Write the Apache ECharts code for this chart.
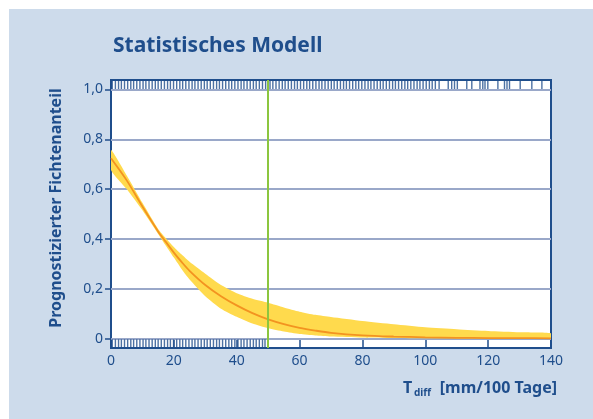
<!DOCTYPE html>
<html>
<head>
<meta charset="utf-8">
<script src="https://cdn.jsdelivr.net/npm/echarts@6/dist/echarts.min.js"></script>
<style>
html,body{margin:0;padding:0;background:#ffffff;}
#bg{position:absolute;left:9px;top:9px;width:584px;height:410px;background:#cddbeb;}
#chart{position:absolute;left:0;top:0;width:593px;height:419px;}
</style>
</head>
<body>
<div id="bg"></div>
<div id="chart"></div>
<script>
// ---- data ----
const xValues = [0, 5, 10, 15, 17.5, 20, 22.5, 25, 30, 35, 40, 45, 50, 55, 60, 65, 70, 80, 90, 100, 110, 120, 130, 140];
const meanValues = [0.724, 0.635, 0.53, 0.43, 0.387, 0.345, 0.307, 0.272, 0.215, 0.17, 0.133, 0.102, 0.077, 0.058, 0.043, 0.032, 0.023, 0.013, 0.008, 0.005, 0.003, 0.002, 0.0015, 0.001];
const upperValues = [0.757, 0.655, 0.545, 0.44, 0.402, 0.368, 0.337, 0.308, 0.26, 0.215, 0.182, 0.16, 0.144, 0.125, 0.108, 0.095, 0.086, 0.07, 0.057, 0.045, 0.037, 0.03, 0.025, 0.021];
const lowerValues = [0.677, 0.6, 0.515, 0.42, 0.372, 0.325, 0.278, 0.237, 0.17, 0.12, 0.087, 0.06, 0.041, 0.028, 0.018, 0.012, 0.008, 0.004, 0.002, 0.001, 0.0005, 0.0003, 0.0002, 0.0001];
const rugTop = [0.4,1.4,2.4,3.3,4.3,5.3,6.3,7.2,8.2,9.2,10.2,11.1,12.1,13.1,14.1,15.0,16.0,17.0,18.0,18.9,19.9,20.9,21.9,22.8,23.8,24.8,25.8,26.7,27.7,28.7,29.7,30.6,31.6,32.6,33.6,34.5,35.5,36.5,37.5,38.4,39.4,40.4,41.4,42.3,43.3,44.3,45.3,46.2,47.2,48.2,49.2,50.6,51.5,52.5,53.5,54.5,55.4,56.4,57.4,58.4,59.3,60.3,61.3,62.3,63.2,64.2,65.2,66.2,67.1,68.1,69.1,70.1,71.0,72.0,73.0,74.0,74.9,75.9,76.9,77.9,78.8,79.8,80.8,81.8,82.7,83.7,84.7,85.7,86.6,87.6,88.6,89.6,90.5,91.5,92.5,93.5,94.4,95.4,96.4,97.4,98.3,99.3,100.3,101.3,102.2,103.2,104.4,107.3,108.4,109.3,110.2,113.2,114.8,117.4,118.3,119.0,119.9,123.1,125.2,126.0,126.8,130.2,133.9,137.1];
const rugBottom = [0.4,1.4,2.4,3.3,4.3,5.3,6.3,7.2,8.2,9.2,10.2,11.1,12.1,13.1,14.1,15.0,16.0,17.0,18.0,18.9,19.9,20.9,21.9,22.8,23.8,24.8,25.8,26.7,27.7,28.7,29.7,30.6,31.6,32.6,33.6,34.5,35.5,36.5,37.5,38.4,39.4,40.4,41.4,42.3,43.3,44.3,45.3,46.2,47.2,48.2,49.0];
const yTickValues = [0, 0.2, 0.4, 0.6, 0.8, 1.0];
const thresholdX = 50;
const rugTopLevel = 1.018;
const rugBottomLevel = -0.019;
// ---------------------------------------

const DARK = '#1f4e8c';
const FONT = '"Noto Sans", sans-serif';
const meanData = xValues.map((x, i) => [x, meanValues[i]]);
const chart = echarts.init(document.getElementById('chart'), null, {renderer: 'canvas'});

const option = {
  animation: false,
  backgroundColor: 'transparent',
  textStyle: {fontFamily: FONT},
  title: {
    text: 'Statistisches Modell',
    left: 108, top: 31,
    textStyle: {fontFamily: FONT, fontSize: 21, fontWeight: 'bold', color: DARK}
  },
  grid: {
    left: 111, right: 42, top: 80, bottom: 71,
    show: true, backgroundColor: '#ffffff', borderColor: DARK, borderWidth: 2
  },
  xAxis: [{
    type: 'value', min: 0, max: 140, interval: 20, position: 'bottom',
    axisLine: {show: true, lineStyle: {color: DARK, width: 2}},
    axisTick: {show: true, inside: false, length: 3, lineStyle: {color: DARK, width: 1.5}},
    axisLabel: {color: DARK, fontSize: 14, fontFamily: FONT, margin: 6},
    splitLine: {show: false}
  }, {
    type: 'value', min: 0, max: 140, interval: 20, position: 'bottom', offset: 0,
    axisLine: {show: false},
    axisTick: {show: true, inside: true, length: 9, lineStyle: {color: DARK, width: 1.5}},
    axisLabel: {show: false},
    splitLine: {show: false}
  }],
  yAxis: {
    type: 'value', min: -0.038, max: 1.038,
    axisLine: {show: true, lineStyle: {color: DARK, width: 2}},
    axisTick: {show: true, customValues: yTickValues, length: 6, lineStyle: {color: DARK, width: 1.5}},
    axisLabel: {
      customValues: yTickValues, color: DARK, fontSize: 14, fontFamily: FONT, margin: 8,
      formatter: v => (Math.abs(v) < 1e-9 ? '0' : v.toFixed(1).replace('.', ','))
    },
    splitLine: {show: false}
  },
  graphic: [
    {type: 'text', x: 56, y: 208, rotation: Math.PI / 2,
     style: {text: 'Prognostizierter Fichtenanteil', fill: DARK, font: 'bold 16px "Noto Sans", sans-serif', align: 'center', verticalAlign: 'middle'}},
    {type: 'text', x: 403, y: 388,
     style: {text: 'T', fill: DARK, font: 'bold 16px "Noto Sans", sans-serif', align: 'left', verticalAlign: 'middle'}},
    {type: 'text', x: 414, y: 393,
     style: {text: 'diff', fill: DARK, font: 'bold 10px "Noto Sans", sans-serif', align: 'left', verticalAlign: 'middle'}},
    {type: 'text', x: 557, y: 388,
     style: {text: '[mm/100 Tage]', fill: DARK, font: 'bold 16px "Noto Sans", sans-serif', align: 'right', verticalAlign: 'middle'}}
  ],
  series: [
    {
      name: 'rugBottom', type: 'scatter', z: 2, silent: true,
      symbol: 'rect', symbolSize: [1.4, 8],
      itemStyle: {color: DARK},
      data: rugBottom.map(x => [x, rugBottomLevel]),
      markLine: {
        silent: true, symbol: 'none', label: {show: false}, z: 1,
        lineStyle: {color: '#9aa8c9', width: 2, type: 'solid'},
        data: yTickValues.map(v => ({yAxis: v}))
      }
    },
    {
      name: 'band', type: 'custom', z: 3, silent: true, clip: true,
      data: [0],
      renderItem: function (params, api) {
        const pts = [];
        for (let i = 0; i < xValues.length; i++) pts.push(api.coord([xValues[i], upperValues[i]]));
        for (let i = xValues.length - 1; i >= 0; i--) pts.push(api.coord([xValues[i], lowerValues[i]]));
        return {type: 'polygon', shape: {points: pts, smooth: 0.2}, style: {fill: '#ffda4d'}};
      }
    },
    {
      name: 'rugTop', type: 'scatter', z: 3, silent: true,
      symbol: 'rect', symbolSize: [1.4, 8],
      itemStyle: {color: DARK},
      data: rugTop.map(x => [x, rugTopLevel])
    },
    {
      name: 'mean', type: 'line', z: 4, silent: true,
      smooth: 0.3, symbol: 'none',
      lineStyle: {color: '#f39320', width: 1.8},
      data: meanData,
      markLine: {
        silent: true, symbol: 'none', label: {show: false},
        lineStyle: {color: '#8cc63f', width: 2, type: 'solid'},
        data: [{xAxis: thresholdX}]
      }
    }
  ]
};
chart.setOption(option);
</script>
</body>
</html>
